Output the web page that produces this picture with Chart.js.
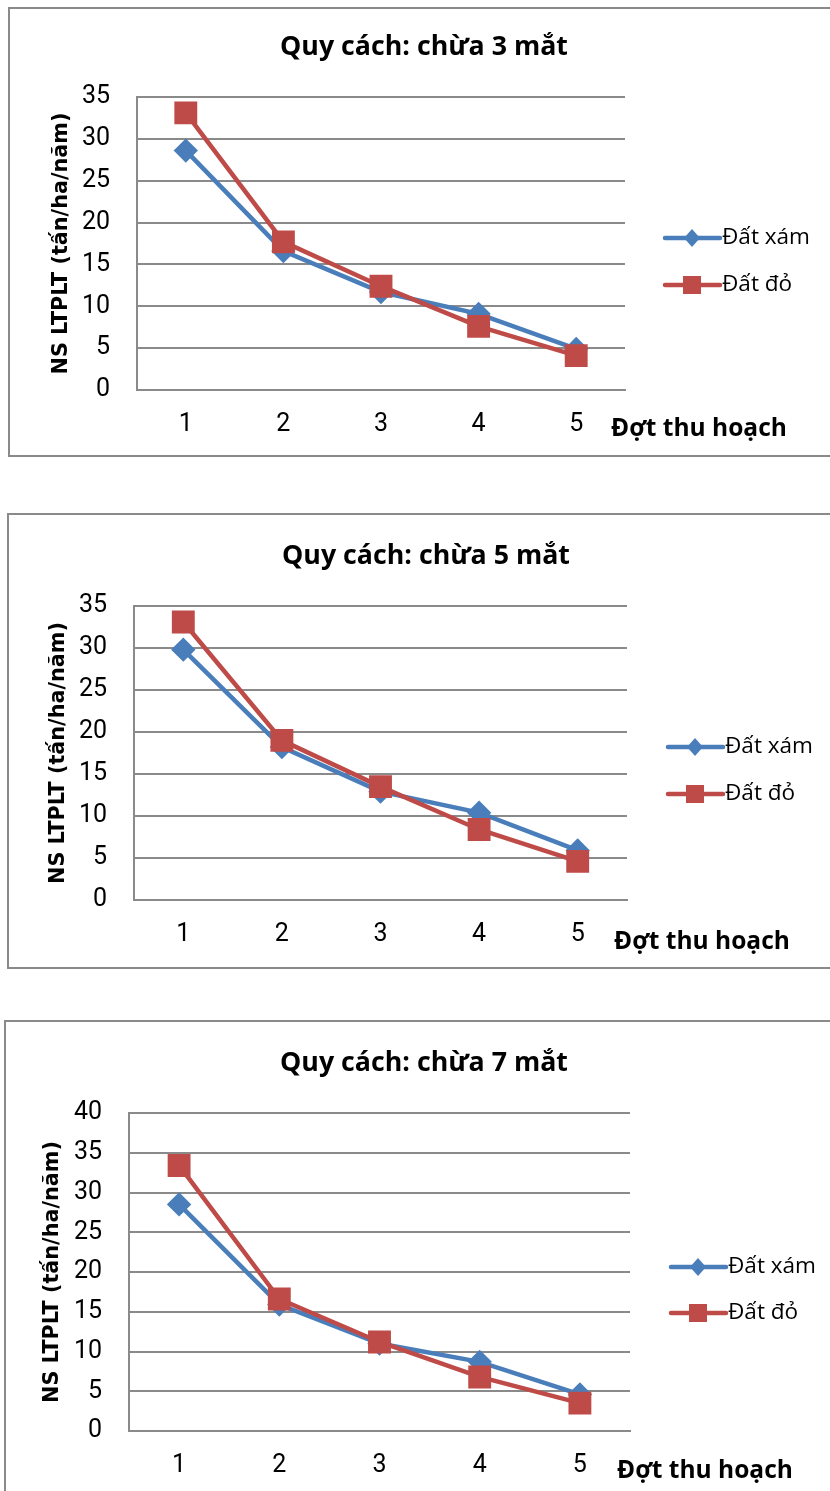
<!DOCTYPE html>
<html>
<head>
<meta charset="utf-8">
<script src="https://cdn.jsdelivr.net/npm/chart.js@4.4.0/dist/chart.umd.min.js"></script>
<style>
body { margin: 0; background: #fff; width: 830px; height: 1491px; overflow: hidden; position: relative; }
.box { position: absolute; border: 2px solid #8a8a8a; background: #fff; }
.box canvas { position: absolute; left: 0; top: 0; }
</style>
</head>
<body>
<div class="box" style="left:8px;top:7px;width:840px;height:446px"><canvas id="c1" width="830" height="446"></canvas></div>
<div class="box" style="left:7px;top:513px;width:840px;height:452px"><canvas id="c2" width="830" height="452"></canvas></div>
<div class="box" style="left:4px;top:1020px;width:840px;height:500px"><canvas id="c3" width="830" height="480"></canvas></div>
<script>
// Data
const categories = ['1', '2', '3', '4', '5'];
const seriesNames = ['Đất xám', 'Đất đỏ'];
const seriesColors = ['#4A7EBB', '#BE4B48'];
const chartTitles = ['Quy cách: chừa 3 mắt', 'Quy cách: chừa 5 mắt', 'Quy cách: chừa 7 mắt'];
const yAxisTitle = 'NS LTPLT (tấn/ha/năm)';
const xAxisTitle = 'Đợt thu hoạch';
const yMax = [35, 35, 40];
const yStep = 5;

const datXam3 = [28.6, 16.6, 11.7, 9.1, 4.9];
const datDo3 = [33.1, 17.7, 12.4, 7.6, 4.1];
const datXam5 = [29.8, 18.2, 12.9, 10.4, 5.9];
const datDo5 = [33.1, 19.0, 13.5, 8.4, 4.6];
const datXam7 = [28.5, 15.9, 11.0, 8.7, 4.6];
const datDo7 = [33.4, 16.6, 11.2, 6.8, 3.5];

const seriesByChart = [[datXam3, datDo3], [datXam5, datDo5], [datXam7, datDo7]];

// Layout of each chart inside its canvas
const layouts = [
    {id: 'c1', left: 127, right: 615, top: 88, bottom: 381, titleX: 414, titleY: 38, yTitleX: 52, legendX: 655, legendY: [229, 276], xTitleX: 601, xTitleY: 420},
    {id: 'c2', left: 125, right: 618, top: 91, bottom: 385, titleX: 417, titleY: 41, yTitleX: 50, legendX: 659, legendY: [232, 279], xTitleX: 605, xTitleY: 427},
    {id: 'c3', left: 123, right: 624, top: 91, bottom: 409, titleX: 418, titleY: 41, yTitleX: 47, legendX: 665, legendY: [245, 291], xTitleX: 611, xTitleY: 449}
];

// font size that makes a text reach a given width
function fitSize(text, weight, family, target) {
    var c = document.createElement('canvas').getContext('2d');
    c.font = weight + ' 100px ' + family;
    return 100 * target / c.measureText(text).width;
}

const titleSize = fitSize(chartTitles[0], 'bold', '"Open Sans"', 288);
const yTitleFont = {family: 'DejaVu Sans', weight: 'bold', size: fitSize(yAxisTitle, 'bold', '"DejaVu Sans"', 262)};
const xTitleSize = fitSize(xAxisTitle, 'bold', '"Open Sans"', 176);
const legendSize = fitSize(seriesNames[0], 'normal', '"Open Sans"', 88);
const tickFont = {family: 'Roboto', size: 25};

// title, legend and x title drawn around the plot
const extras = {
    id: 'extras',
    afterDraw(chart, args, opts) {
        var ctx = chart.ctx;
        ctx.save();
        ctx.fillStyle = '#000';
        ctx.textBaseline = 'middle';
        ctx.textAlign = 'center';
        ctx.font = 'bold ' + titleSize + 'px "Open Sans"';
        ctx.fillText(opts.title, opts.titleX, opts.titleY);
        ctx.textAlign = 'left';
        seriesNames.forEach(function (name, i) {
            var x0 = opts.legendX, y = opts.legendY[i], cx = x0 + 27;
            ctx.strokeStyle = seriesColors[i];
            ctx.fillStyle = seriesColors[i];
            ctx.lineWidth = 4.5;
            ctx.lineCap = 'round';
            ctx.beginPath();
            ctx.moveTo(x0, y);
            ctx.lineTo(x0 + 55, y);
            ctx.stroke();
            ctx.beginPath();
            if (i === 0) {
                ctx.moveTo(cx, y - 9); ctx.lineTo(cx + 8, y); ctx.lineTo(cx, y + 9); ctx.lineTo(cx - 8, y);
            } else {
                ctx.rect(cx - 9, y - 9, 18, 18);
            }
            ctx.fill();
            ctx.fillStyle = '#000';
            ctx.font = legendSize + 'px "Open Sans"';
            ctx.fillText(name, x0 + 57, y);
        });
        ctx.font = 'bold ' + xTitleSize + 'px "Open Sans"';
        ctx.fillStyle = '#000';
        ctx.fillText(xAxisTitle, opts.xTitleX, opts.xTitleY);
        ctx.restore();
    }
};

layouts.forEach(function (lay, k) {
    var canvas = document.getElementById(lay.id);
    var W = canvas.width, H = canvas.height;
    var data = seriesByChart[k];
    lay.title = chartTitles[k];
    new Chart(canvas, {
        type: 'line',
        data: {
            labels: categories,
            datasets: [{
                label: seriesNames[0],
                data: data[0],
                borderColor: seriesColors[0],
                backgroundColor: seriesColors[0],
                borderWidth: 4.5,
                pointStyle: 'rectRot',
                pointRadius: 9,
                pointHoverRadius: 9,
                tension: 0,
                order: 2
            }, {
                label: seriesNames[1],
                data: data[1],
                borderColor: seriesColors[1],
                backgroundColor: seriesColors[1],
                borderWidth: 4.5,
                pointStyle: 'rect',
                pointRadius: 13,
                pointHoverRadius: 13,
                tension: 0,
                order: 1
            }]
        },
        options: {
            responsive: false,
            animation: false,
            layout: {padding: {left: 0, top: lay.top, right: W - lay.right, bottom: 0}},
            plugins: {
                legend: {display: false},
                tooltip: {enabled: false},
                title: {display: false},
                extras: lay
            },
            scales: {
                x: {
                    offset: true,
                    grid: {display: false, drawTicks: false},
                    border: {display: true, color: '#8a8a8a', width: 2},
                    ticks: {color: '#000', font: tickFont, padding: 20},
                    afterFit: function (s) { s.height = H - lay.bottom; }
                },
                y: {
                    min: 0,
                    max: yMax[k],
                    ticks: {stepSize: yStep, color: '#000', font: tickFont, padding: 27},
                    grid: {color: '#8a8a8a', lineWidth: 2, drawTicks: false},
                    border: {display: true, color: '#8a8a8a', width: 2},
                    title: {
                        display: true,
                        text: yAxisTitle,
                        color: '#000',
                        font: yTitleFont,
                        padding: {top: lay.yTitleX - yTitleFont.size * 0.6, bottom: 0}
                    },
                    afterFit: function (s) { s.width = lay.left; }
                }
            }
        },
        plugins: [extras]
    });
});
</script>
</body>
</html>
